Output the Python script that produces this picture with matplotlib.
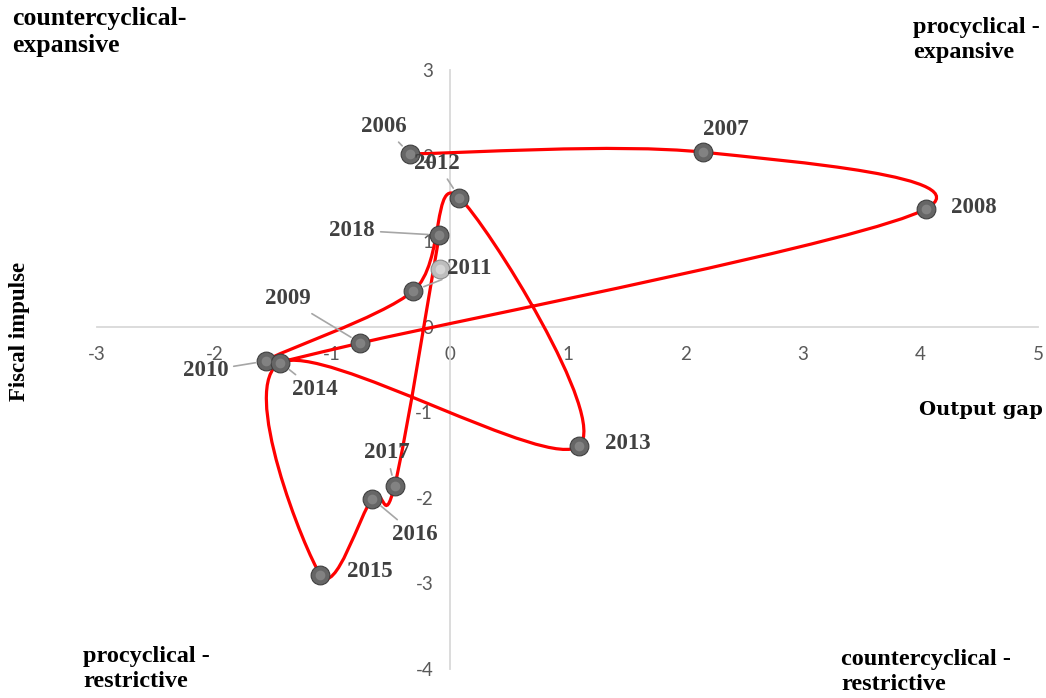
import matplotlib
matplotlib.use("Agg")
import matplotlib.pyplot as plt
from matplotlib.path import Path
from matplotlib.patches import PathPatch

# donnees
annees = ["2006", "2007", "2008", "2009", "2010", "2011", "2012",
          "2013", "2014", "2015", "2016", "2017", "2018"]
output_gap = [-0.34, 2.15, 4.05, -0.76, -1.56, -0.31, 0.08,
              1.10, -1.44, -1.10, -0.66, -0.47, -0.09]
fiscal_impulse = [2.02, 2.04, 1.38, -0.19, -0.40, 0.42, 1.51,
                  -1.39, -0.42, -2.90, -2.01, -1.86, 1.07]

# point plus clair, sans etiquette
extra_x = [-0.08]
extra_y = [0.68]

x_ticks = [-3, -2, -1, 0, 1, 2, 3, 4, 5]
y_ticks = [-4, -3, -2, -1, 0, 1, 2, 3]

# position des etiquettes (pixels) et presence d'un trait de rappel
label_offset = {
    "2006": (-26, 27, True), "2007": (23, 23, False), "2008": (48, 1, False),
    "2009": (-73, 44, True), "2010": (-61, -10, True), "2011": (56, 22, True),
    "2012": (-22, 34, True), "2013": (49, 2, False), "2014": (34, -27, True),
    "2015": (49, 3, False), "2016": (43, -36, True), "2017": (-8, 33, True),
    "2018": (-87, 5, True),
}

fig = plt.figure(figsize=(10.46, 6.98), dpi=100)
ax = fig.add_axes([97 / 1046, 1 - 669 / 698, (1038 - 97) / 1046, (669 - 70) / 698])
ax.set_xlim(-3, 5)
ax.set_ylim(-4, 3)

for s in ["top", "right"]:
    ax.spines[s].set_visible(False)
ax.spines["left"].set_position("zero")
ax.spines["bottom"].set_position("zero")
for s in ["left", "bottom"]:
    ax.spines[s].set_color("#d9d9d9")
    ax.spines[s].set_linewidth(1.3)

ax.set_xticks(x_ticks)
ax.set_yticks(y_ticks)
ax.set_xticklabels([str(v) for v in x_ticks])
ax.set_yticklabels([str(v) for v in y_ticks])
ax.tick_params(length=0, labelcolor="#595959", labelsize=13.5)
ax.tick_params(axis="x", pad=14)
ax.tick_params(axis="y", pad=12)
for lab in ax.get_xticklabels() + ax.get_yticklabels():
    lab.set_family("Lato")

"""
Courbe lissee (bezier facon Excel)
"""
pts = list(zip(output_gap, fiscal_impulse))
n = len(pts)
verts = [pts[0]]
codes = [Path.MOVETO]
for i in range(n - 1):
    p0 = pts[max(i - 1, 0)]
    p1 = pts[i]
    p2 = pts[i + 1]
    p3 = pts[min(i + 2, n - 1)]
    c1 = (p1[0] + (p2[0] - p0[0]) / 6, p1[1] + (p2[1] - p0[1]) / 6)
    c2 = (p2[0] - (p3[0] - p1[0]) / 6, p2[1] - (p3[1] - p1[1]) / 6)
    verts += [c1, c2, p2]
    codes += [Path.CURVE4] * 3
ax.add_patch(PathPatch(Path(verts, codes), facecolor="none", edgecolor="#ff0000",
                       linewidth=2.3, zorder=3))

# spheres grises : disque sombre + reflet
ax.plot(output_gap, fiscal_impulse, "o", markersize=13.5, markerfacecolor="#666666",
        markeredgecolor="#3f3f3f", markeredgewidth=0.8, zorder=4, linestyle="none")
ax.plot(output_gap, fiscal_impulse, "o", markersize=7, markerfacecolor="#8a8a8a",
        markeredgecolor="none", alpha=0.8, zorder=4, linestyle="none")
ax.plot(extra_x, extra_y, "o", markersize=13.5, markerfacecolor="#bdbdbd",
        markeredgecolor="#8c8c8c", markeredgewidth=0.8, zorder=4, linestyle="none")
ax.plot(extra_x, extra_y, "o", markersize=7, markerfacecolor="#dadada",
        markeredgecolor="none", alpha=0.8, zorder=4, linestyle="none")

for i, an in enumerate(annees):
    dx, dy, leader = label_offset[an]
    props = None
    if leader:
        props = dict(arrowstyle="-", color="#a6a6a6", lw=1.2, shrinkA=2, shrinkB=8)
    ax.annotate(an, (output_gap[i], fiscal_impulse[i]), xytext=(dx, dy),
                textcoords="offset pixels", ha="center", va="center",
                fontsize=16.5, fontweight="bold", family="Liberation Serif",
                color="#404040", arrowprops=props, zorder=5)

"""
Titres
"""
corner = dict(fontweight="bold", family="Liberation Serif",
              color="black", va="top", ha="left", linespacing=1.22)
fig.text(12 / 1046, 1 - 7 / 698, "countercyclical-\nexpansive", fontsize=18.5, **corner)
fig.text(913 / 1046, 1 - 17 / 698, "procyclical -\nexpansive", fontsize=17.5, **corner)
fig.text(83 / 1046, 1 - 646 / 698, "procyclical -\nrestrictive", fontsize=17.5, **corner)
fig.text(841 / 1046, 1 - 649 / 698, "countercyclical -\nrestrictive", fontsize=17.5, **corner)

fig.text(20 / 1046, 1 - 331 / 698, "Fiscal impulse", rotation=90, fontsize=16.5,
         fontweight="bold", family="Liberation Serif", ha="center", va="center")
fig.text(981 / 1046, 1 - 410 / 698, "Output gap", fontsize=14,
         fontweight="bold", family="DejaVu Serif", ha="center", va="center")

fig.savefig("out.png", dpi=100)
